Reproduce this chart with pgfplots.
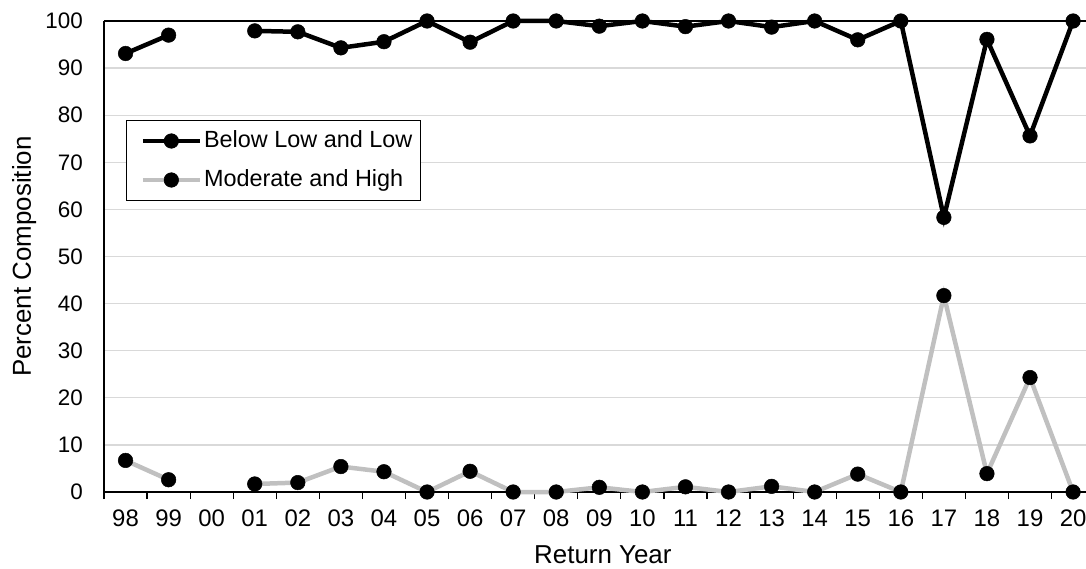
\documentclass[border=0pt]{standalone}
\usepackage{pgfplots}
\pgfplotsset{compat=1.18}
\usepackage{fontspec}
\setmainfont{Liberation Sans}
\definecolor{gridgray}{RGB}{217,217,217}
\definecolor{linegray}{RGB}{192,192,192}
\begin{document}
\begin{tikzpicture}
\begin{axis}[
  scale only axis,
  width=982bp, height=471bp,
  xmin=-0.5, xmax=22.3,
  ymin=0, ymax=100,
  axis x line*=bottom, axis y line*=left,
  axis line style={line width=1.2bp},
  xtick={0,...,22},
  xticklabels={98,99,00,01,02,03,04,05,06,07,08,09,10,11,12,13,14,15,16,17,18,19,20},
  minor xtick={-0.5,0.5,...,21.5},
  tick align=outside,
  major tick length=0pt,
  minor tick length=7bp,
  minor tick style={line width=1.2bp, black},
  ytick={0,10,...,100},
  ytick style={draw=none},
  ymajorgrids,
  grid style={gridgray, line width=1.2bp},
  /pgf/number format/assume math mode=true,
  xticklabel style={font=\fontsize{24}{28}\selectfont, anchor=north, inner sep=0pt, yshift=-18bp},
  yticklabel style={font=\fontsize{22.5}{27}\selectfont, anchor=east, inner sep=0pt, xshift=-21bp},
  xlabel={Return Year},
  ylabel={Percent Composition},
  label style={font=\fontsize{26}{30}\selectfont},
  xlabel style={at={(axis description cs:0.508,-0.114)}, anchor=north, inner sep=0pt},
  ylabel style={at={(axis description cs:-0.0937,0.5)}, anchor=north, inner sep=0pt},
  unbounded coords=jump,
  clip=false,
  legend style={at={(axis description cs:0.0224,0.79)}, anchor=north west,
    draw=black, line width=1.2bp, font=\fontsize{23.5}{28}\selectfont,
    inner xsep=8bp, inner ysep=9.5bp, row sep=17bp, column sep=2bp,
    nodes={inner sep=0pt, text height=17bp, text depth=5bp},
    cells={anchor=west}},
  legend image code/.code={\path (0bp,0bp); \draw[#1, mark repeat=2, mark phase=2] plot coordinates {(6bp,0bp) (34.5bp,0bp) (63bp,0bp)};},
]
\draw[black, line width=1.2bp] (rel axis cs:0,1) -- (rel axis cs:1,1);
\addplot[black, line width=4.5bp, mark=*, mark size=7.3bp, mark options={fill=black, draw=black, line width=0.5bp}] coordinates {
(0,93.1) (1,97.0) (2,nan) (3,97.9) (4,97.7) (5,94.3) (6,95.6) (7,100) (8,95.5) (9,100) (10,100)
(11,98.9) (12,100) (13,98.8) (14,100) (15,98.7) (16,100) (17,96.0) (18,100) (19,58.3) (20,96.1) (21,75.6) (22,100)};
\addlegendentry{Below Low and Low}
\addplot[linegray, line width=4.5bp, mark=*, mark size=7.3bp, mark options={fill=black, draw=black, line width=0.5bp}] coordinates {
(0,6.7) (1,2.6) (2,nan) (3,1.7) (4,2.0) (5,5.4) (6,4.3) (7,0) (8,4.4) (9,0) (10,0)
(11,1.0) (12,0) (13,1.1) (14,0) (15,1.2) (16,0) (17,3.8) (18,0) (19,41.7) (20,3.9) (21,24.3) (22,0)};
\addlegendentry{Moderate and High}
\end{axis}
\pgfresetboundingbox
\path ([shift={(-104bp,-77bp)}]current axis.south west) rectangle ([shift={(0bp,21bp)}]current axis.north east);
\end{tikzpicture}
\end{document}
